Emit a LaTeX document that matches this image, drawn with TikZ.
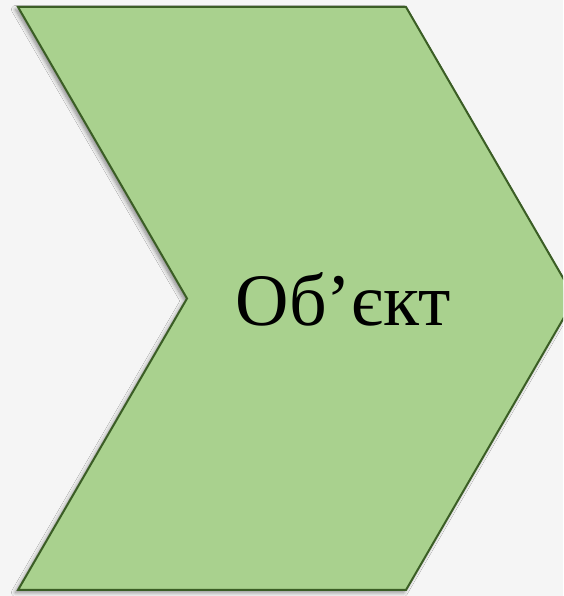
\documentclass[tikz,border=0pt]{standalone}
\usepackage{fontspec}
\setmainfont{Liberation Serif}
\usepackage{xcolor}
\usetikzlibrary{shadows.blur}

\definecolor{chevfill}{HTML}{A9D18E}
\definecolor{chevline}{HTML}{3B5E25}
\definecolor{pagebg}{HTML}{F5F5F5}

\begin{document}
\begin{tikzpicture}[x=1pt, y=1pt]
	
	% --- STYLES ---
	\tikzstyle{chevron} = [draw=chevline, line width=2pt, fill=chevfill, line join=miter, blur shadow={shadow xshift=-2.5pt, shadow yshift=-2.5pt, shadow blur steps=8, shadow blur radius=4pt, shadow opacity=45}]
	\tikzstyle{label} = [font=\fontsize{74}{80}\selectfont, anchor=base, inner sep=0pt]
	
	% --- BACKGROUND ---
	\fill[pagebg] (0,0) rectangle (563,596);
	\useasboundingbox (0,0) rectangle (563,596);
	\clip (0,0) rectangle (563,596);
	
	% --- SHAPE ---
	\path[chevron] (18,589) -- (406,589) -- (575,297.5) -- (406,6) -- (18,6) -- (187,297.5) -- cycle;
	
	% --- TEXT ---
	\node (obj) [label] at (343,270) {Об’єкт};
	
\end{tikzpicture}
\end{document}
